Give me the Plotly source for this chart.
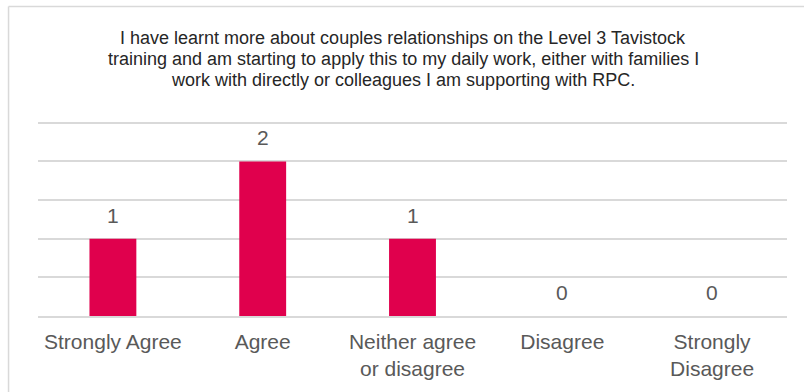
import plotly.graph_objects as go

# Survey responses
categories = ["Strongly Agree", "Agree", "Neither agree<br>or disagree", "Disagree", "Strongly<br>Disagree"]
counts = [1, 2, 1, 0, 0]

title_lines = [
    "I have learnt more about couples relationships on the Level 3 Tavistock",
    "training and am starting to apply this to my daily work, either with families I",
    "work with directly or colleagues I am supporting with RPC.",
]

BAR_COLOR = "#E0004D"
GRID_COLOR = "#D9D9D9"
TEXT_COLOR = "#595959"
FONT = "Liberation Sans, Arial, sans-serif"

W, H = 804, 392
Y_MAX = 2.55
PX_PER_UNIT = 78.0
L, R, B = 37.5, 16.5, 74
T = H - B - Y_MAX * PX_PER_UNIT
plot_w = W - L - R
plot_h = H - T - B

fig = go.Figure(
    go.Bar(
        x=categories,
        y=counts,
        marker=dict(color=BAR_COLOR, line=dict(width=0)),
        hoverinfo="skip",
    )
)


def px_x(px):
    return (px - L) / plot_w


def px_y(py):
    return (H - B - py) / plot_h


annotations = []
# value labels above each bar
for c, v in zip(categories, counts):
    annotations.append(dict(
        x=c, y=v, xref="x", yref="y", text=str(v), showarrow=False,
        yanchor="bottom", yshift=10,
        font=dict(family=FONT, size=21, color=TEXT_COLOR),
    ))

# chart title, one line per annotation for tight line spacing
title_y_px = [37, 58.5, 80]
for line, ypx in zip(title_lines, title_y_px):
    annotations.append(dict(
        x=px_x(403), xref="paper", y=px_y(ypx), yref="paper",
        text=line, showarrow=False, xanchor="center", yanchor="middle",
        font=dict(family=FONT, size=18, color="#262626"),
    ))

# outer chart frame (left and top edges visible)
shapes = [
    dict(type="line", xref="paper", yref="paper",
         x0=px_x(8), x1=px_x(8), y0=px_y(5.5), y1=px_y(H + 10),
         line=dict(color=GRID_COLOR, width=1.5)),
    dict(type="line", xref="paper", yref="paper",
         x0=px_x(8), x1=px_x(W + 10), y0=px_y(5.5), y1=px_y(5.5),
         line=dict(color=GRID_COLOR, width=1.5)),
]

fig.update_layout(
    width=W, height=H,
    margin=dict(l=L, r=R, t=T, b=B),
    paper_bgcolor="white", plot_bgcolor="white",
    bargap=0.687,
    showlegend=False,
    annotations=annotations,
    shapes=shapes,
    font=dict(family=FONT, color=TEXT_COLOR),
)
fig.update_xaxes(
    type="category",
    tickfont=dict(family=FONT, size=21, color=TEXT_COLOR),
    showgrid=False, showline=True, linecolor=GRID_COLOR, linewidth=1.5,
    ticks="", ticklabelstandoff=6,
)
fig.update_yaxes(
    range=[0, Y_MAX], tickvals=[0.5, 1, 1.5, 2, 2.5], showticklabels=False,
    showgrid=True, gridcolor=GRID_COLOR, gridwidth=1.5,
    zeroline=False, showline=False, ticks="",
)

fig.write_html("out.html")
